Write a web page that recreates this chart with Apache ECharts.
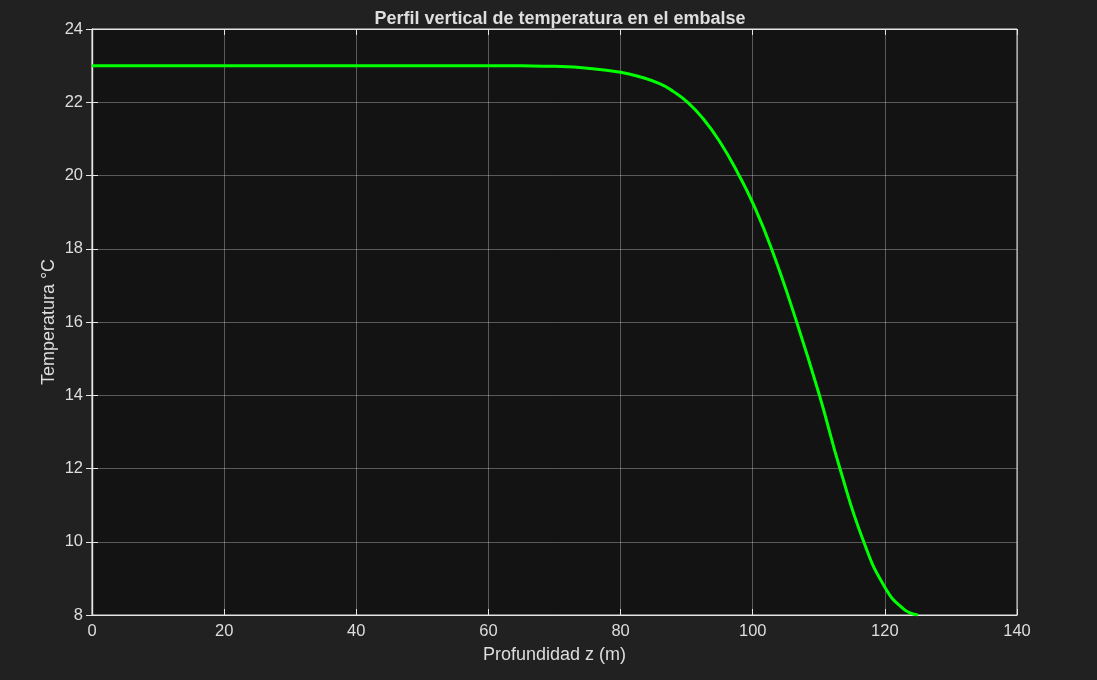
<!DOCTYPE html>
<html><head><meta charset="utf-8">
<script src="https://cdn.jsdelivr.net/npm/echarts@6/dist/echarts.min.js"></script>
<style>html,body{margin:0;padding:0;background:#212121;}#c{width:1097px;height:680px;}</style>
</head><body><div id="c"></div>
<script>
const depth = [0,20,40,60,65,70,75,80,83,86,88,90.2,92.5,95,97.8,100,102.85,106.65,110.1,113.2,116.8,120,122.8,125];
const temperature = [23,23,23,23,22.995,22.98,22.93,22.82,22.69,22.5,22.29,21.99,21.55,20.93,20.05,19.25,18.0,16.0,14.0,12.0,10.0,8.76,8.17,8.0];
const title = 'Perfil vertical de temperatura en el embalse';
const xName = 'Profundidad z (m)';
const yName = 'Temperatura °C';

const txt = '#dedede';
const font = 'Liberation Sans, Arial, Helvetica, sans-serif';
const chart = echarts.init(document.getElementById('c'));
const axisCommon = {
  axisLine:{show:true,lineStyle:{color:'#e6e6e6',width:1.2}},
  axisTick:{show:true,inside:true,length:6,lineStyle:{color:'#e6e6e6'}},
};
chart.setOption({
  backgroundColor:'#212121',
  animation:false,
  title:{text:title,left:555,top:5,textAlign:'center',textStyle:{color:txt,fontSize:18,fontWeight:'bold',fontFamily:font}},
  grid:{left:92,top:29,right:80,bottom:65,show:true,backgroundColor:'#131313',borderColor:'#e6e6e6',borderWidth:1},
  xAxis:[{
    type:'value',min:0,max:140,interval:20,position:'bottom',
    name:xName,nameLocation:'middle',nameGap:31,
    nameTextStyle:{color:txt,fontSize:18,fontFamily:font},
    axisLabel:{color:txt,fontSize:16.5,margin:8,fontFamily:font},
    splitLine:{show:true,lineStyle:{color:'rgba(255,255,255,0.3)',width:1}},
    ...axisCommon
  },{
    type:'value',min:0,max:140,interval:20,position:'top',
    axisLabel:{show:false},splitLine:{show:false},...axisCommon
  }],
  yAxis:[{
    type:'value',min:8,max:24,interval:2,position:'left',
    name:yName,nameLocation:'middle',nameGap:34,nameMoveOverlap:false,
    nameTextStyle:{color:txt,fontSize:18,fontFamily:font},
    axisLabel:{color:txt,fontSize:16.5,margin:9,fontFamily:font},
    splitLine:{show:true,lineStyle:{color:'rgba(255,255,255,0.3)',width:1}},
    ...axisCommon
  },{
    type:'value',min:8,max:24,interval:2,position:'right',
    axisLabel:{show:false},splitLine:{show:false},...axisCommon
  }],
  series:[{
    type:'line',
    data:depth.map((d,i)=>[d,temperature[i]]),
    showSymbol:false,smooth:0.5,
    lineStyle:{color:'#00ff00',width:3},
    itemStyle:{color:'#00ff00'}
  }]
});
</script></body></html>
